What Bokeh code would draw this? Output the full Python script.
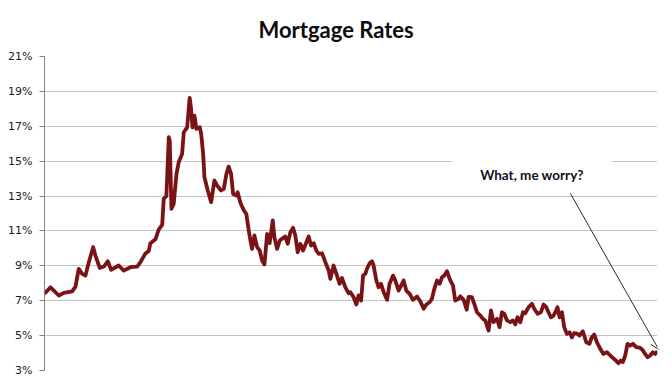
from bokeh.plotting import figure
from bokeh.models import Range1d, FixedTicker, Label, Arrow, OpenHead
from bokeh.embed import file_html
from bokeh.resources import INLINE

# ---- data ----
years = [
    1971.30, 1971.73, 1972.32, 1972.68, 1973.27, 1973.51, 1973.74, 1973.99, 1974.22, 1974.46,
    1974.77, 1974.93, 1975.24, 1975.53, 1975.81, 1976.05, 1976.59, 1976.95, 1977.43, 1977.91,
    1978.14, 1978.50, 1978.73, 1978.85, 1979.21, 1979.44, 1979.69, 1979.80, 1979.99, 1980.16,
    1980.23, 1980.35, 1980.51, 1980.71, 1980.87, 1981.11, 1981.23, 1981.47, 1981.65, 1981.75,
    1981.85, 1981.99, 1982.13, 1982.37, 1982.47, 1982.61, 1982.70, 1982.94, 1983.18, 1983.41,
    1983.61, 1983.89, 1984.08, 1984.27, 1984.43, 1984.60, 1984.75, 1984.98, 1985.07, 1985.27,
    1985.50, 1985.69, 1985.86, 1985.98, 1986.10, 1986.26, 1986.46, 1986.64, 1986.81, 1986.98,
    1987.17, 1987.35, 1987.57, 1987.69, 1987.88, 1988.07, 1988.31, 1988.47, 1988.64, 1988.83,
    1989.02, 1989.18, 1989.35, 1989.54, 1989.73, 1989.97, 1990.13, 1990.30, 1990.49, 1990.68,
    1990.84, 1991.09, 1991.32, 1991.56, 1991.68, 1991.91, 1992.11, 1992.34, 1992.51, 1992.75,
    1992.98, 1993.10, 1993.34, 1993.53, 1993.69, 1993.87, 1994.01, 1994.17, 1994.29, 1994.48,
    1994.65, 1994.76, 1994.96, 1995.12, 1995.29, 1995.48, 1995.72, 1995.90, 1996.15, 1996.31,
    1996.54, 1996.72, 1996.90, 1997.09, 1997.33, 1997.57, 1997.86, 1998.09, 1998.33, 1998.52,
    1998.75, 1998.92, 1999.09, 1999.28, 1999.47, 1999.64, 1999.80, 1999.99, 2000.18, 2000.42,
    2000.58, 2000.82, 2000.94, 2001.18, 2001.40, 2001.53, 2001.77, 2001.94, 2002.13, 2002.37,
    2002.56, 2002.72, 2002.96, 2003.13, 2003.31, 2003.56, 2003.74, 2003.91, 2004.08, 2004.27,
    2004.50, 2004.70, 2004.86, 2005.02, 2005.22, 2005.41, 2005.57, 2005.81, 2006.05, 2006.21,
    2006.45, 2006.69, 2006.88, 2007.07, 2007.23, 2007.40, 2007.59, 2007.78, 2007.87, 2008.02,
    2008.19, 2008.35, 2008.54, 2008.73, 2008.90, 2009.06, 2009.26, 2009.44, 2009.68, 2009.92,
    2010.15, 2010.32, 2010.49, 2010.68, 2010.92, 2011.15, 2011.39, 2011.63, 2011.98, 2012.22,
    2012.39, 2012.53, 2012.70, 2012.86, 2013.05, 2013.25, 2013.48, 2013.77, 2013.96, 2014.12,
    2014.29, 2014.48, 2014.67, 2014.83, 2015.00,
]
rates = [
    7.40, 7.77, 7.30, 7.45, 7.54, 7.81, 8.83, 8.54, 8.44, 9.21,
    10.07, 9.59, 8.88, 8.96, 9.26, 8.77, 9.02, 8.73, 8.92, 8.96,
    9.21, 9.72, 9.84, 10.30, 10.52, 11.08, 11.35, 12.84, 13.00, 16.37,
    16.18, 12.27, 12.55, 14.27, 14.94, 15.42, 16.66, 16.94, 18.63, 18.00,
    16.94, 17.61, 16.85, 16.94, 16.56, 15.42, 14.08, 13.32, 12.65, 13.89,
    13.60, 13.32, 13.41, 14.27, 14.69, 14.27, 13.12, 13.03, 13.22, 12.60,
    12.20, 11.97, 11.02, 10.45, 9.97, 10.74, 10.07, 9.88, 9.31, 9.08,
    10.83, 10.30, 11.60, 10.64, 9.97, 10.45, 10.60, 10.68, 10.26, 10.93,
    11.18, 10.74, 9.78, 10.26, 9.88, 10.35, 10.68, 10.16, 10.30, 9.88,
    9.69, 9.72, 9.21, 8.73, 8.25, 9.02, 8.54, 7.97, 8.30, 7.77,
    7.43, 7.49, 7.20, 6.78, 7.30, 7.01, 8.44, 8.54, 8.83, 9.15,
    9.26, 9.02, 8.16, 7.77, 7.97, 7.49, 7.05, 7.97, 8.44, 8.16,
    7.58, 7.87, 8.16, 7.58, 7.40, 7.05, 7.24, 6.97, 6.54, 6.78,
    6.91, 7.11, 7.68, 8.16, 7.97, 8.35, 8.44, 8.69, 8.25, 7.87,
    7.01, 7.11, 7.25, 7.05, 6.48, 7.22, 7.20, 6.82, 6.34, 6.15,
    5.96, 5.87, 5.29, 6.44, 5.77, 5.96, 5.48, 6.34, 6.25, 5.87,
    5.77, 5.87, 5.64, 6.05, 5.77, 6.34, 6.28, 6.63, 6.82, 6.54,
    6.25, 6.34, 6.78, 6.63, 6.34, 6.05, 6.15, 6.44, 6.63, 6.05,
    6.34, 5.48, 5.10, 5.19, 4.90, 5.15, 5.12, 5.00, 5.25, 4.62,
    4.53, 4.92, 5.06, 4.62, 4.24, 3.95, 4.05, 3.86, 3.61, 3.42,
    3.57, 3.48, 3.86, 4.53, 4.43, 4.53, 4.34, 4.30, 4.15, 3.95,
    3.76, 3.86, 4.05, 3.95, 4.10,
]
y_ticks = [3, 5, 7, 9, 11, 13, 15, 17, 19, 21]
y_tick_labels = ["3%", "5%", "7%", "9%", "11%", "13%", "15%", "17%", "19%", "21%"]
title_text = "Mortgage Rates"
note_text = "What, me worry?"

# ---- figure ----
p = figure(
    width=672, height=384,
    x_range=Range1d(years[0], years[-1]),
    y_range=Range1d(y_ticks[0], y_ticks[-1]),
    x_axis_location=None,
    output_backend="svg", toolbar_location=None,
    min_border_left=44, min_border_right=15, min_border_top=56, min_border_bottom=14,
    title=title_text,
)
p.outline_line_color = None
p.background_fill_color = "white"
p.border_fill_color = "white"

p.title.text_font = "Lato"
p.title.text_font_size = "22px"
p.title.text_font_style = "bold"
p.title.text_color = "#0d0d0d"
p.title.align = "left"
p.title.vertical_align = "top"
p.title.offset = 214
p.title.standoff = 23

ax = p.yaxis[0]
ax.ticker = FixedTicker(ticks=y_ticks)
ax.major_label_overrides = {t: l for t, l in zip(y_ticks, y_tick_labels)}
ax.major_label_text_font = "DejaVu Sans"
ax.major_label_text_font_size = "11px"
ax.major_label_text_color = "#1a1a1a"
ax.major_label_standoff = 7
ax.major_tick_out = 5
ax.major_tick_in = 0
ax.minor_tick_out = 0
ax.minor_tick_in = 0
ax.axis_line_color = "#8a7f84"
ax.major_tick_line_color = "#8a7f84"

p.xgrid.visible = False
p.ygrid.grid_line_color = "#c4c4c4"
p.ygrid.grid_line_width = 1

p.line(years, rates, line_color="#791315", line_width=3.8, line_join="round")

note = Label(
    x=2006.05, y=14.23, text=note_text,
    text_align="center", text_baseline="middle",
    text_font="Lato", text_font_size="13.5px", text_font_style="bold",
    text_color="#111122",
    background_fill_color="white", padding=(28, 10),
)
p.add_layout(note)

arrow = Arrow(
    end=OpenHead(size=9, line_color="#2a2a2a", line_width=1),
    x_start=2008.78, y_start=13.16, x_end=2015.1, y_end=4.19,
    line_color="#2a2a2a", line_width=1,
)
p.add_layout(arrow)

open("out.html", "w").write(file_html(p, INLINE))
